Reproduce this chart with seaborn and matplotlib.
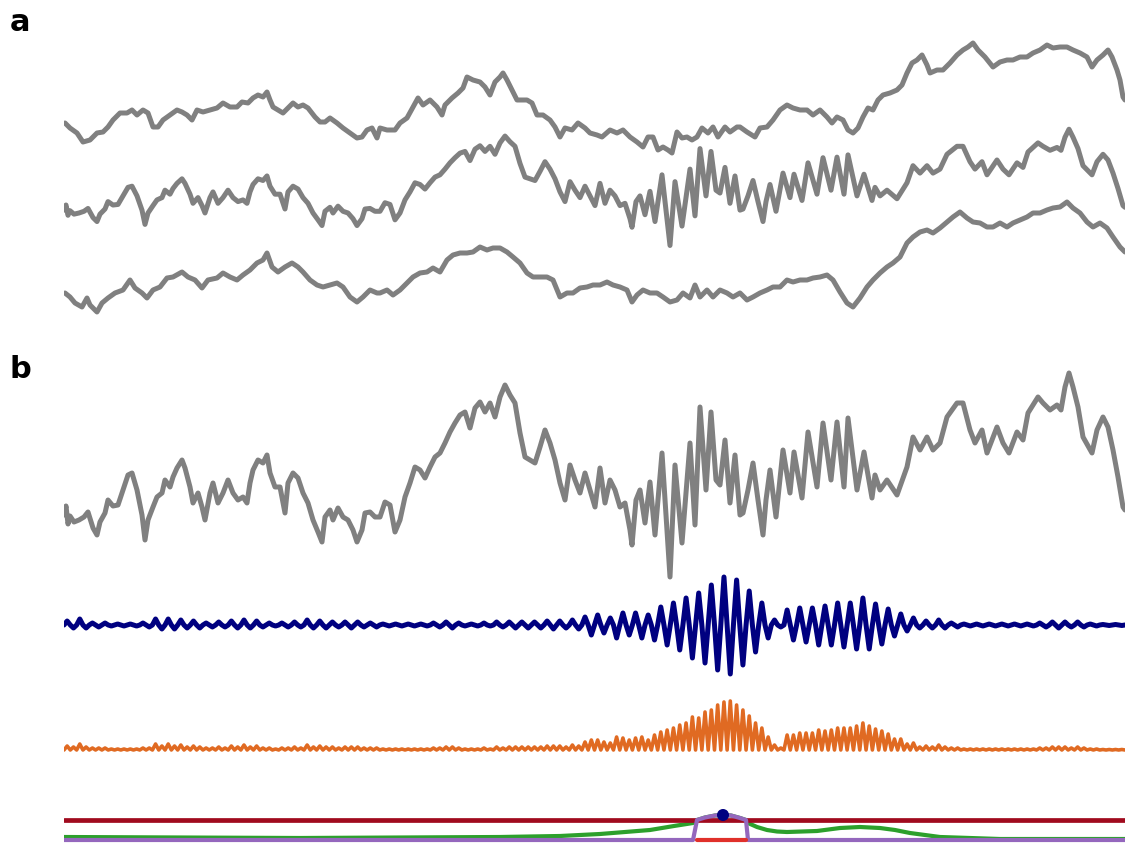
import numpy as np
import matplotlib
matplotlib.use("Agg")
import matplotlib.pyplot as plt
import seaborn as sns

# (time, amplitude) pairs, time 0..1061
top_trace = [(1, -3), (6, -8), (13, -13), (19, -22), (26, -20), (33, -13), (39, -12), (44, -7), (49, 0), (56, 7),
             (63, 7), (68, 10), (73, 5), (79, 10), (84, 7), (89, -7), (94, -7), (99, 0), (106, 5), (113, 10),
             (118, 8), (123, 5), (128, 0), (133, 10), (139, 8), (146, 10), (153, 12), (159, 17), (166, 13), (173, 13),
             (178, 18), (184, 17), (189, 22), (194, 25), (199, 23), (203, 28), (206, 20), (209, 13), (214, 10), (219, 7),
             (224, 12), (229, 17), (234, 13), (239, 15), (244, 12), (251, 3), (256, -2), (261, -2), (266, 2), (273, -3),
             (279, -8), (286, -13), (293, -18), (298, -17), (303, -10), (308, -8), (313, -18), (316, -8), (323, -10),
             (331, -10), (336, -3), (343, 2), (349, 13), (354, 22), (359, 15), (366, 20), (373, 13), (378, 5), (381, 15),
             (388, 22), (394, 27), (399, 32), (403, 43), (409, 40), (416, 38), (421, 33), (426, 25), (431, 38), (436, 43),
             (439, 47), (443, 40), (448, 30), (453, 20), (458, 20), (463, 20), (468, 17), (473, 5), (479, 5), (486, 0),
             (491, -7), (496, -17), (501, -8), (508, -10), (514, -3), (521, -8), (526, -13), (533, -15), (538, -17),
             (546, -10), (553, -13), (559, -10), (566, -17), (573, -22), (579, -27), (584, -17), (589, -17), (594, -30),
             (599, -27), (604, -30), (608, -33), (613, -12), (618, -18), (623, -17), (628, -20), (633, -17), (638, -8),
             (644, -13), (649, -7), (654, -17), (661, -7), (666, -12), (673, -7), (676, -7), (683, -12), (691, -17),
             (696, -8), (703, -7), (709, 0), (716, 10), (723, 15), (729, 12), (736, 10), (743, 10), (749, 5), (756, 10),
             (763, 3), (768, -3), (773, 3), (779, 0), (784, -10), (789, -13), (794, -8), (799, 3), (804, 12), (809, 10),
             (814, 20), (819, 25), (826, 27), (833, 30), (838, 35), (843, 47), (848, 57), (853, 60), (858, 65), (863, 55),
             (866, 47), (873, 50), (879, 50), (886, 57), (893, 65), (899, 70), (904, 73), (909, 77), (914, 70), (921, 63),
             (929, 53), (936, 58), (943, 60), (949, 60), (956, 63), (963, 63), (969, 67), (976, 70), (983, 75), (989, 72),
             (996, 73), (1003, 73), (1009, 70), (1016, 67), (1023, 63), (1028, 53), (1033, 60), (1039, 65), (1044, 70),
             (1048, 63), (1053, 50), (1056, 40), (1059, 23), (1061, 20)]

bottom_trace = [(1, -3), (6, -7), (11, -13), (18, -17), (23, -8), (26, -15), (33, -22), (38, -13), (44, -8), (51, -3),
                (59, 0), (66, 10), (71, 2), (78, -3), (83, -8), (89, 0), (96, 3), (103, 12), (109, 13), (118, 18),
                (124, 13), (131, 10), (138, 2), (144, 10), (153, 12), (159, 17), (166, 13), (173, 10), (179, 15),
                (186, 20), (193, 27), (199, 30), (203, 37), (208, 23), (214, 18), (221, 23), (228, 27), (234, 23),
                (239, 18), (246, 10), (253, 5), (259, 3), (266, 5), (273, 7), (279, 3), (286, -7), (293, -12), (299, -7),
                (306, 0), (313, -3), (316, -3), (323, 0), (329, -5), (336, 0), (343, 7), (349, 13), (356, 17), (363, 18),
                (369, 22), (376, 18), (383, 30), (389, 35), (396, 37), (403, 37), (409, 38), (416, 43), (423, 40),
                (429, 42), (436, 42), (443, 38), (449, 33), (456, 27), (463, 17), (469, 13), (476, 13), (483, 13),
                (489, 10), (496, -7), (503, -3), (509, -3), (516, 2), (523, 3), (529, 5), (536, 5), (543, 8), (549, 5),
                (556, 3), (563, 0), (568, -12), (573, -5), (579, 0), (586, -3), (593, -3), (599, -7), (606, -12),
                (613, -10), (619, -3), (626, -8), (631, 5), (636, -7), (643, 0), (649, -7), (656, 0), (663, -3),
                (669, -7), (676, -3), (683, -10), (689, -7), (696, -3), (703, 0), (709, 3), (716, 3), (723, 10),
                (729, 8), (736, 10), (743, 10), (749, 12), (756, 13), (763, 15), (769, 10), (776, -2), (783, -13),
                (789, -17), (796, -8), (803, 3), (809, 10), (816, 17), (823, 23), (829, 27), (836, 33), (843, 47),
                (849, 53), (856, 58), (863, 60), (869, 57), (876, 62), (883, 68), (889, 73), (896, 78), (903, 72),
                (909, 68), (916, 67), (923, 63), (929, 63), (936, 67), (943, 63), (949, 67), (956, 70), (963, 73),
                (969, 77), (976, 77), (983, 80), (989, 82), (996, 83), (1003, 88), (1009, 82), (1016, 77), (1023, 68),
                (1029, 63), (1036, 67), (1043, 62), (1049, 53), (1056, 43), (1061, 38)]

# the middle channel, shown on its own in panel b
lfp_trace = [(0, 5), (2, 14), (4, -4), (6, 4), (10, -2), (15, 0), (20, 3), (24, 8), (29, -8), (33, -15), (36, -2),
             (41, 7), (44, 20), (49, 14), (54, 15), (59, 30), (64, 45), (68, 47), (73, 30), (78, 5), (81, -20), (84, 0),
             (89, 13), (93, 23), (98, 27), (101, 40), (106, 33), (109, 43), (113, 52), (118, 60), (121, 52), (126, 33),
             (129, 17), (134, 27), (138, 13), (141, 0), (146, 27), (149, 37), (154, 17), (159, 27), (164, 40), (169, 27),
             (174, 20), (179, 23), (183, 17), (186, 37), (189, 50), (194, 60), (199, 57), (203, 65), (206, 47),
             (211, 33), (216, 33), (221, 7), (224, 37), (229, 47), (234, 42), (239, 27), (244, 17), (249, 0),
             (254, -12), (258, -22), (261, 3), (266, 10), (269, 0), (274, 12), (279, 3), (284, 0), (289, -10),
             (293, -22), (298, -10), (301, 7), (306, 8), (311, 3), (316, 3), (321, 18), (326, 15), (331, -12), (336, 0),
             (341, 23), (346, 37), (351, 53), (356, 50), (361, 42), (366, 53), (371, 63), (376, 67), (381, 77),
             (386, 88), (391, 97), (396, 105), (401, 108), (406, 92), (411, 112), (416, 118), (421, 108), (426, 117),
             (431, 103), (436, 123), (441, 135), (446, 125), (451, 117), (456, 87), (461, 63), (466, 60), (471, 57),
             (476, 73), (481, 90), (486, 77), (491, 60), (496, 37), (501, 20), (506, 55), (511, 40), (516, 27),
             (521, 47), (526, 30), (531, 13), (536, 52), (541, 17), (546, 40), (551, 30), (556, 13), (561, 17),
             (566, -10), (568, -25), (572, 20), (576, 30), (581, -3), (586, 38), (591, -15), (598, 67), (603, -10),
             (606, -57), (611, 55), (618, -23), (626, 77), (631, -5), (636, 113), (642, 30), (647, 108), (652, 40),
             (656, 35), (661, 80), (666, 17), (671, 65), (676, 5), (679, 7), (684, 30), (689, 57), (694, 20),
             (699, -15), (702, 20), (706, 50), (712, 3), (719, 70), (726, 27), (730, 68), (738, 22), (744, 88),
             (753, 33), (759, 97), (767, 40), (773, 98), (780, 33), (784, 102), (793, 30), (800, 68), (808, 22),
             (811, 45), (816, 30), (823, 40), (833, 25), (843, 53), (849, 83), (856, 70), (863, 83), (869, 70),
             (876, 77), (883, 103), (893, 117), (899, 117), (906, 90), (911, 77), (918, 90), (923, 67), (933, 93),
             (939, 77), (945, 67), (953, 88), (959, 80), (964, 107), (974, 123), (979, 117), (986, 110), (993, 115),
             (997, 110), (1001, 133), (1005, 147), (1009, 133), (1014, 113), (1019, 83), (1028, 67), (1033, 90),
             (1039, 103), (1044, 93), (1049, 70), (1054, 43), (1059, 13), (1061, 10)]

# band-passed signal: height of each peak and depth of each trough, cycle by cycle
theta_peaks = [4, 6, 2, 2, 1, 1, 2, 6, 6, 5, 4, 2, 3, 4, 5, 4, 2, 2, 3, 5, 4,
               3, 3, 3, 2, 1, 1, 1, 1, 2, 3, 2, 1, 2, 3, 3, 3, 3, 4, 4, 5, 8,
               10, 7, 12, 12, 10, 18, 22, 27, 32, 40, 48, 45, 34, 22, 5, 15, 17, 17, 19, 22, 22, 27, 21, 16, 11, 7, 4, 5, 2,
               1, 1, 1, 1, 1, 1, 2, 3, 3, 3, 1, 0.5, 0.5]
theta_troughs = [3, 3, 2, 1, 1, 1, 2, 4, 4, 3, 3, 2, 2, 3, 3, 2, 1, 2, 2, 3, 3,
                 2, 3, 2, 2, 1, 1, 1, 1, 2, 3, 1, 1, 1, 2, 3, 3, 3, 4, 3, 4, 10,
                 8, 13, 10, 13, 15, 20, 25, 33, 38, 45, 49, 40, 27, 13, 2, 15, 17, 20, 20, 22, 24, 24, 19, 11, 6, 3, 3, 3, 2,
                 1, 1, 1, 1, 1, 1, 2, 3, 2, 2, 1, 0.5, 0.5]

# smoothed power envelope
envelope = [(0, 3), (236, 2), (436, 3), (496, 4), (536, 6), (586, 10), (610, 14), (629, 17), (633, 20), (641, 22.5),
            (651, 24.5), (659, 25), (667, 24.5), (676, 22), (682, 20), (684, 17), (693, 13), (703, 10), (713, 8.5),
            (723, 8), (753, 9), (776, 12), (796, 13), (816, 12), (831, 10), (846, 7), (861, 5), (876, 3), (936, 1),
            (1061, 1)]
threshold = 20

sns.set_theme(style="white")

fig = plt.figure(figsize=(11.25, 8.44), dpi=100)
ax_a = fig.add_axes([64 / 1125, (844 - 330) / 844, 1061 / 1125, 300 / 844])
ax_b = fig.add_axes([64 / 1125, 0, 1061 / 1125, 499 / 844])

grey = "#808080"

# panel a: three channels
t, v = np.array(top_trace).T
sns.lineplot(x=t, y=v - 120, ax=ax_a, color=grey, lw=3.6, estimator=None)
t_lfp, v_lfp = np.array(lfp_trace).T
sns.lineplot(x=t_lfp, y=0.57 * v_lfp - 213, ax=ax_a, color=grey, lw=3.6, estimator=None)
t, v = np.array(bottom_trace).T
sns.lineplot(x=t, y=v - 290, ax=ax_a, color=grey, lw=3.6, estimator=None)

# panel b: raw, filtered, rectified, envelope + detection
sns.lineplot(x=t_lfp, y=v_lfp - 520, ax=ax_b, color=grey, lw=3.6, estimator=None)

pk = np.array(theta_peaks, dtype=float)
tr = np.array(theta_troughs, dtype=float)
zero = np.zeros_like(pk)
filt = np.append(np.column_stack([zero, pk, zero, -tr]).ravel(), 0.0)
t_filt = np.arange(len(filt)) * (1061 / (4 * len(pk)))
sns.lineplot(x=t_filt, y=filt - 625, ax=ax_b, color="#000080", lw=3.6, estimator=None)
sns.lineplot(x=t_filt, y=np.abs(filt) - 750, ax=ax_b, color="#e06a22", lw=2.6, estimator=None)

t_env, v_env = np.array(envelope).T
above = v_env >= threshold
sns.lineplot(x=t_env, y=v_env - 840, ax=ax_b, color="#2ca02c", lw=3.0, estimator=None)
ax_b.axhline(threshold - 840, color="#a00a1e", lw=3.4)
sns.lineplot(x=t_env, y=np.where(above, v_env, 0) - 840, ax=ax_b, color="#9467bd", lw=3.0, estimator=None)
sns.lineplot(x=t_env[above], y=np.zeros(above.sum()) - 840, ax=ax_b, color="#e0302a", lw=3.0, estimator=None)
i_max = np.argmax(v_env)
sns.scatterplot(x=[t_env[i_max]], y=[v_env[i_max] - 840], ax=ax_b, color="#000080", s=75, zorder=5,
                edgecolor="none")

for ax, lo, hi in [(ax_a, -330, -30), (ax_b, -844, -345)]:
    ax.set_xlim(0, 1061)
    ax.set_ylim(lo, hi)
    ax.set_axis_off()

fig.text(10 / 1125, 1 - 31 / 844, "a", fontsize=22, fontweight="bold", va="baseline", ha="left", color="black")
fig.text(10 / 1125, 1 - 378 / 844, "b", fontsize=22, fontweight="bold", va="baseline", ha="left", color="black")

fig.savefig("out.png", dpi=100)
